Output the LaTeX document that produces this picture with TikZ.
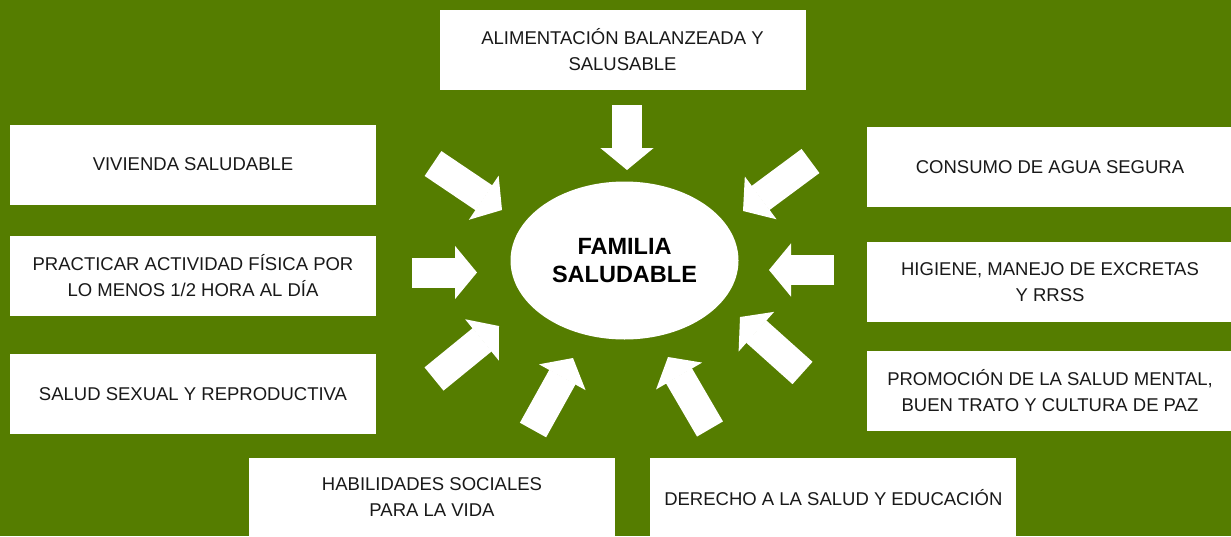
\documentclass[tikz,border=0pt]{standalone}
\usepackage{fontspec}
\setmainfont{Liberation Sans}
\usetikzlibrary{positioning}
\usetikzlibrary{arrows.meta}
\usetikzlibrary{shapes.geometric}
\definecolor{fondo}{RGB}{85,125,0}
\tikzset{node distance=32pt,
caja/.style={
fill=white,
text=black!90,
minimum width=366pt,
minimum height=80pt,
inner sep=0pt,
align=center,
font=\fontsize{18.5}{26}\selectfont},
centro/.style={
ellipse,
fill=white,
text=black,
minimum width=228pt,
minimum height=158pt,
align=center,
font=\bfseries\fontsize{23.5}{28.5}\selectfont},
flecha/.style={
white,
line width=30pt,
-{Triangle[length=22pt, width=53pt, line width=1.5pt]}}}

\begin{document}
\begin{tikzpicture}[x=1pt, y=-1pt]
\useasboundingbox (0,0) rectangle (1231,536);
\fill[fondo] (0,0) rectangle (1231,536);
\node[centro] (fam) at (624.5,260.5) {FAMILIA\\SALUDABLE};
\node[caja] (alim) at (622.5,49.5) {ALIMENTACIÓN BALANZEADA Y\\SALUSABLE};
\node[caja] (viv) at (193,164.5) {VIVIENDA SALUDABLE};
\node[caja, below=31pt of viv] (act) {PRACTICAR ACTIVIDAD FÍSICA POR\\LO MENOS 1/2 HORA AL DÍA};
\node[caja, below=38pt of act] (sex) {SALUD SEXUAL Y REPRODUCTIVA};
\node[caja] (hab) at (432,497.5) {HABILIDADES SOCIALES\\PARA LA VIDA};
\node[caja, right=35pt of hab] (der) {DERECHO A LA SALUD Y EDUCACIÓN};
\node[caja] (agua) at (1050,167) {CONSUMO DE AGUA SEGURA};
\node[caja, below=35pt of agua] (hig) {HIGIENE, MANEJO DE EXCRETAS\\Y RRSS};
\node[caja, below=28pt of hig] (men) {PROMOCIÓN DE LA SALUD MENTAL,\\BUEN TRATO Y CULTURA DE PAZ};
\coordinate (alim-a) at (627,105);
\coordinate (alim-b) at (627,170);
\coordinate (viv-a) at (433,163.5);
\coordinate (viv-b) at (502,210);
\coordinate (act-a) at (412,272.5);
\coordinate (act-b) at (477,272.5);
\coordinate (sex-a) at (434,379);
\coordinate (sex-b) at (499,326);
\coordinate (hab-a) at (533,430);
\coordinate (hab-b) at (573,358);
\coordinate (der-a) at (710,429);
\coordinate (der-b) at (668,357);
\coordinate (men-a) at (802.5,373);
\coordinate (men-b) at (740,317);
\coordinate (hig-a) at (834,270);
\coordinate (hig-b) at (769,270);
\coordinate (agua-a) at (810.5,161);
\coordinate (agua-b) at (743,211);
\draw[flecha] (alim-a) -- (alim-b);
\draw[flecha] (viv-a) -- (viv-b);
\draw[flecha] (act-a) -- (act-b);
\draw[flecha] (sex-a) -- (sex-b);
\draw[flecha] (hab-a) -- (hab-b);
\draw[flecha] (der-a) -- (der-b);
\draw[flecha] (men-a) -- (men-b);
\draw[flecha] (hig-a) -- (hig-b);
\draw[flecha] (agua-a) -- (agua-b);
\end{tikzpicture}
\end{document}
